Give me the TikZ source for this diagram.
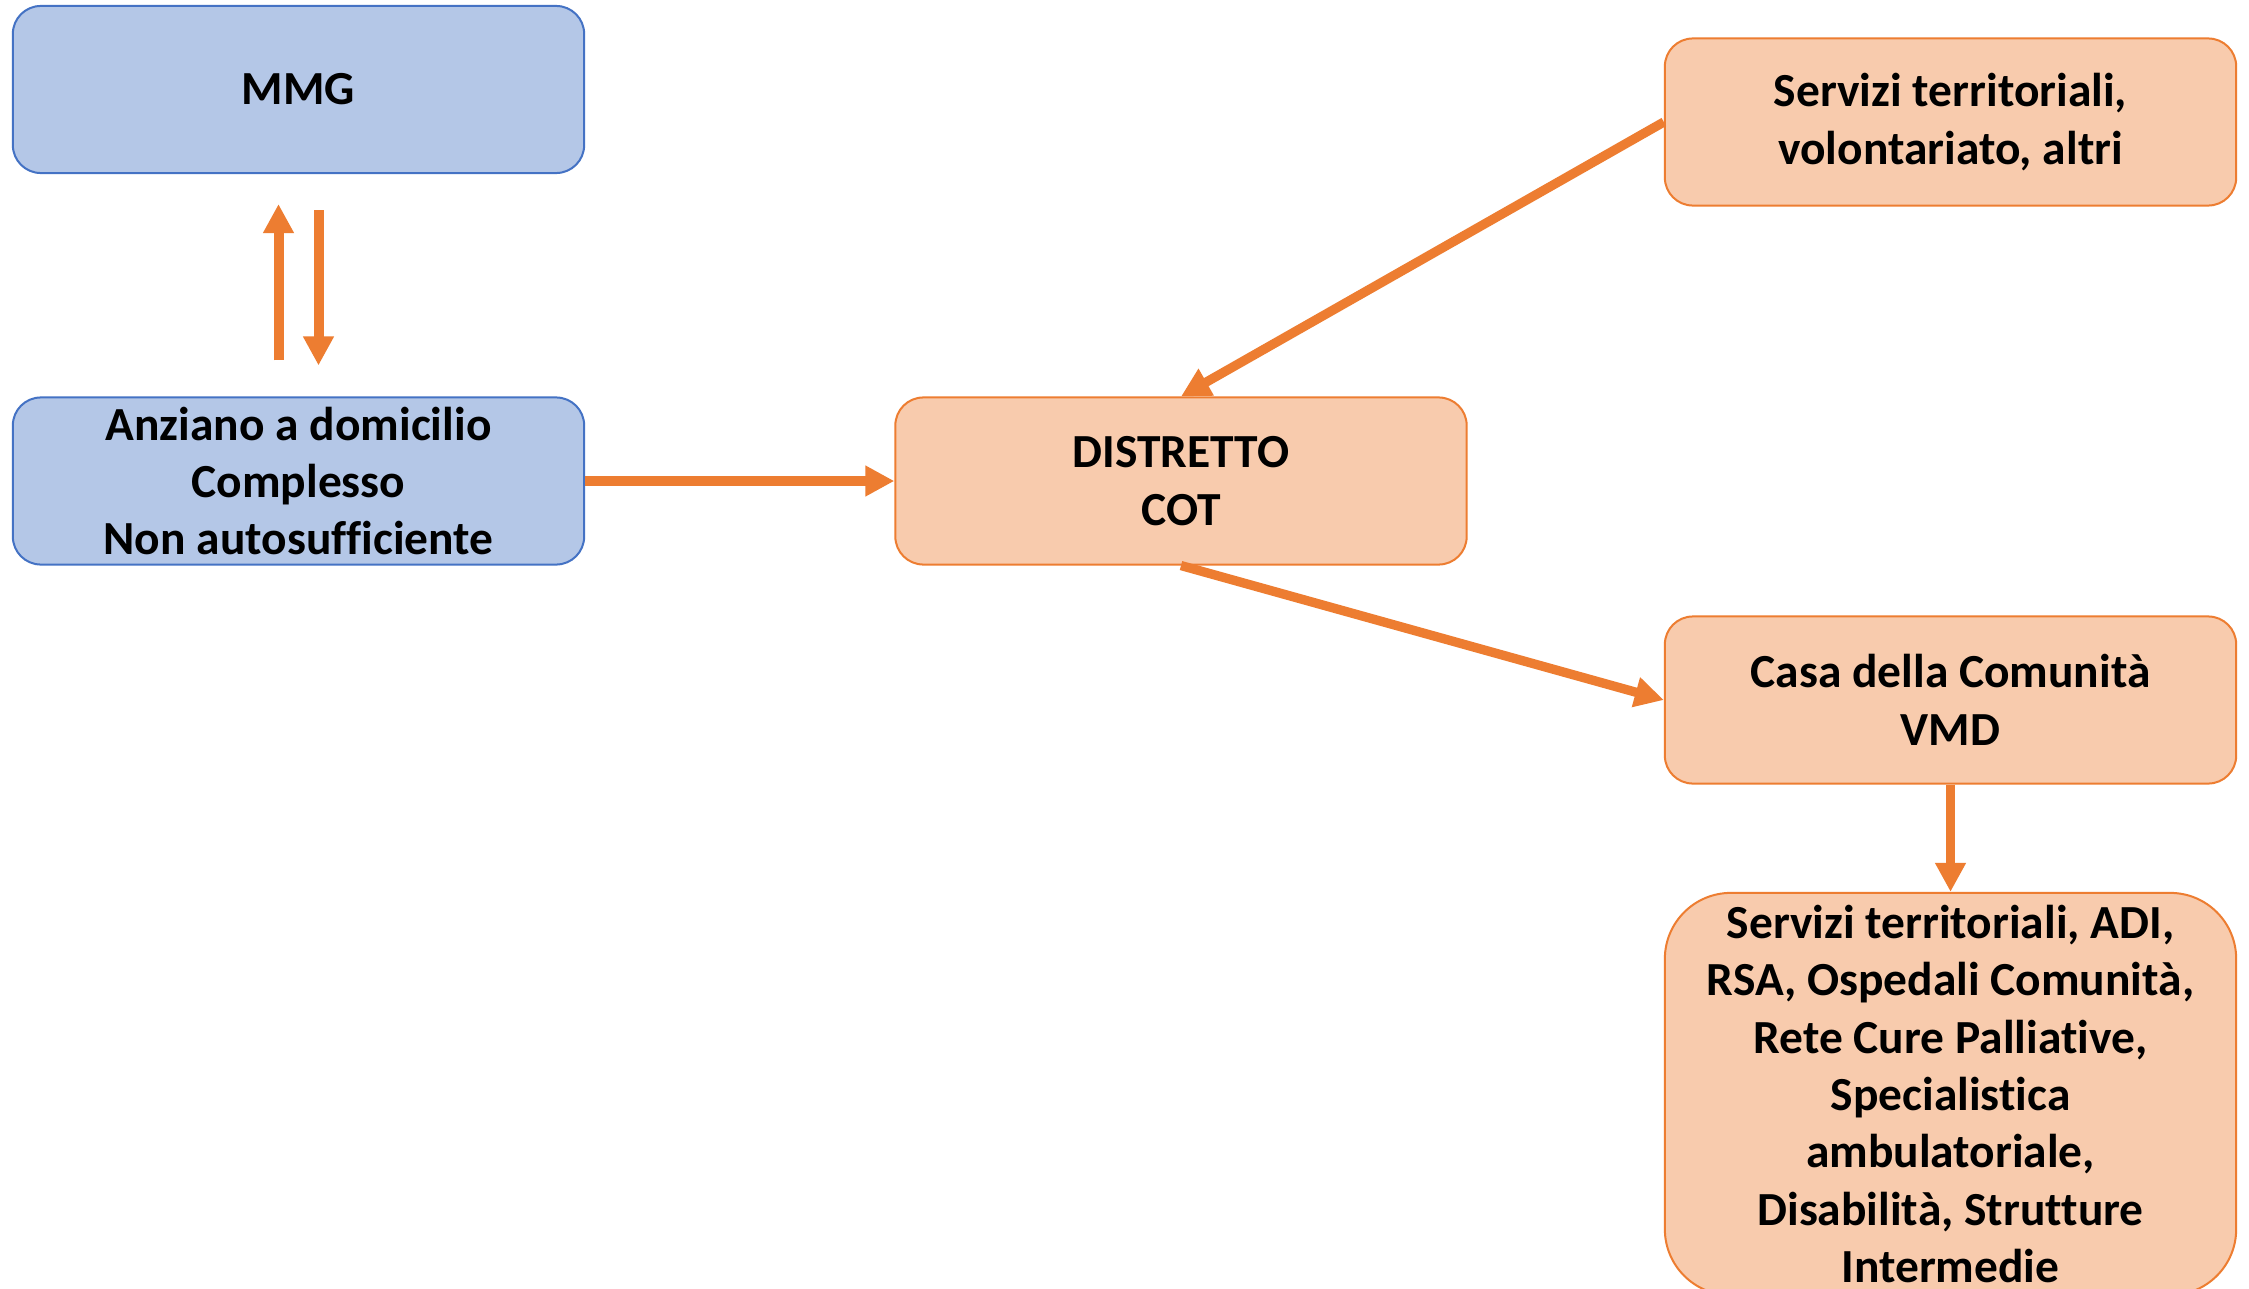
\documentclass[tikz,border=0pt]{standalone}
\usepackage{fontspec}
\setmainfont{Carlito}[Ligatures={NoCommon}]
\usetikzlibrary{arrows.meta,calc}
\definecolor{bluefill}{HTML}{B4C7E7}
\definecolor{blueline}{HTML}{4472C4}
\definecolor{orfill}{HTML}{F8CBAD}
\definecolor{orline}{HTML}{ED7D31}
\begin{document}
\begin{tikzpicture}[x=0.01cm,y=-0.01cm,
  box/.style={rectangle, rounded corners=0.28cm, line width=0.02cm,
    minimum width=5.71cm, minimum height=1.67cm, inner sep=0pt, align=center,
    font=\fontsize{13.5}{16.33}\selectfont\bfseries},
  bluebox/.style={box, fill=bluefill, draw=blueline},
  orbox/.style={box, fill=orfill, draw=orline},
  conn/.style={draw=orline, line width=0.093cm, -{Triangle[width=0.29cm,length=0.29cm]}}]
\clip (0,0) rectangle (2249,1288);
\fill[white] (0,0) rectangle (2249,1288);
\node[bluebox] (mmg) at (298.5,89.5) {MMG};
\node[bluebox] (anz) at (298.5,481) {Anziano a domicilio\\Complesso\\Non autosufficiente};
\node[orbox] (dist) at (1181,481) {DISTRETTO\\COT};
\node[orbox] (serv) at (1950.5,122) {Servizi territoriali,\\volontariato, altri};
\node[orbox] (casa) at (1950.5,700) {Casa della Comunità\\VMD};
\node[orbox, minimum height=4.02cm, rounded corners=0.66cm] (rete) at (1950.5,1094)
  {Servizi territoriali, ADI,\\RSA, Ospedali Comunità,\\Rete Cure Palliative,\\Specialistica\\ambulatoriale,\\Disabilità, Strutture\\Intermedie};
\draw[conn] (anz) -- (dist);
\draw[conn] (serv.west) -- (dist.north);
\draw[conn] (dist.south) -- (casa.west);
\draw[conn] (casa) -- (rete);
\draw[conn, line width=0.1cm] ($(anz.north)+(-20,-36)$) -- ($(mmg.south)+(-20,30)$);
\draw[conn, line width=0.1cm] ($(mmg.south)+(20,36)$) -- ($(anz.north)+(20,-31)$);
\end{tikzpicture}
\end{document}
